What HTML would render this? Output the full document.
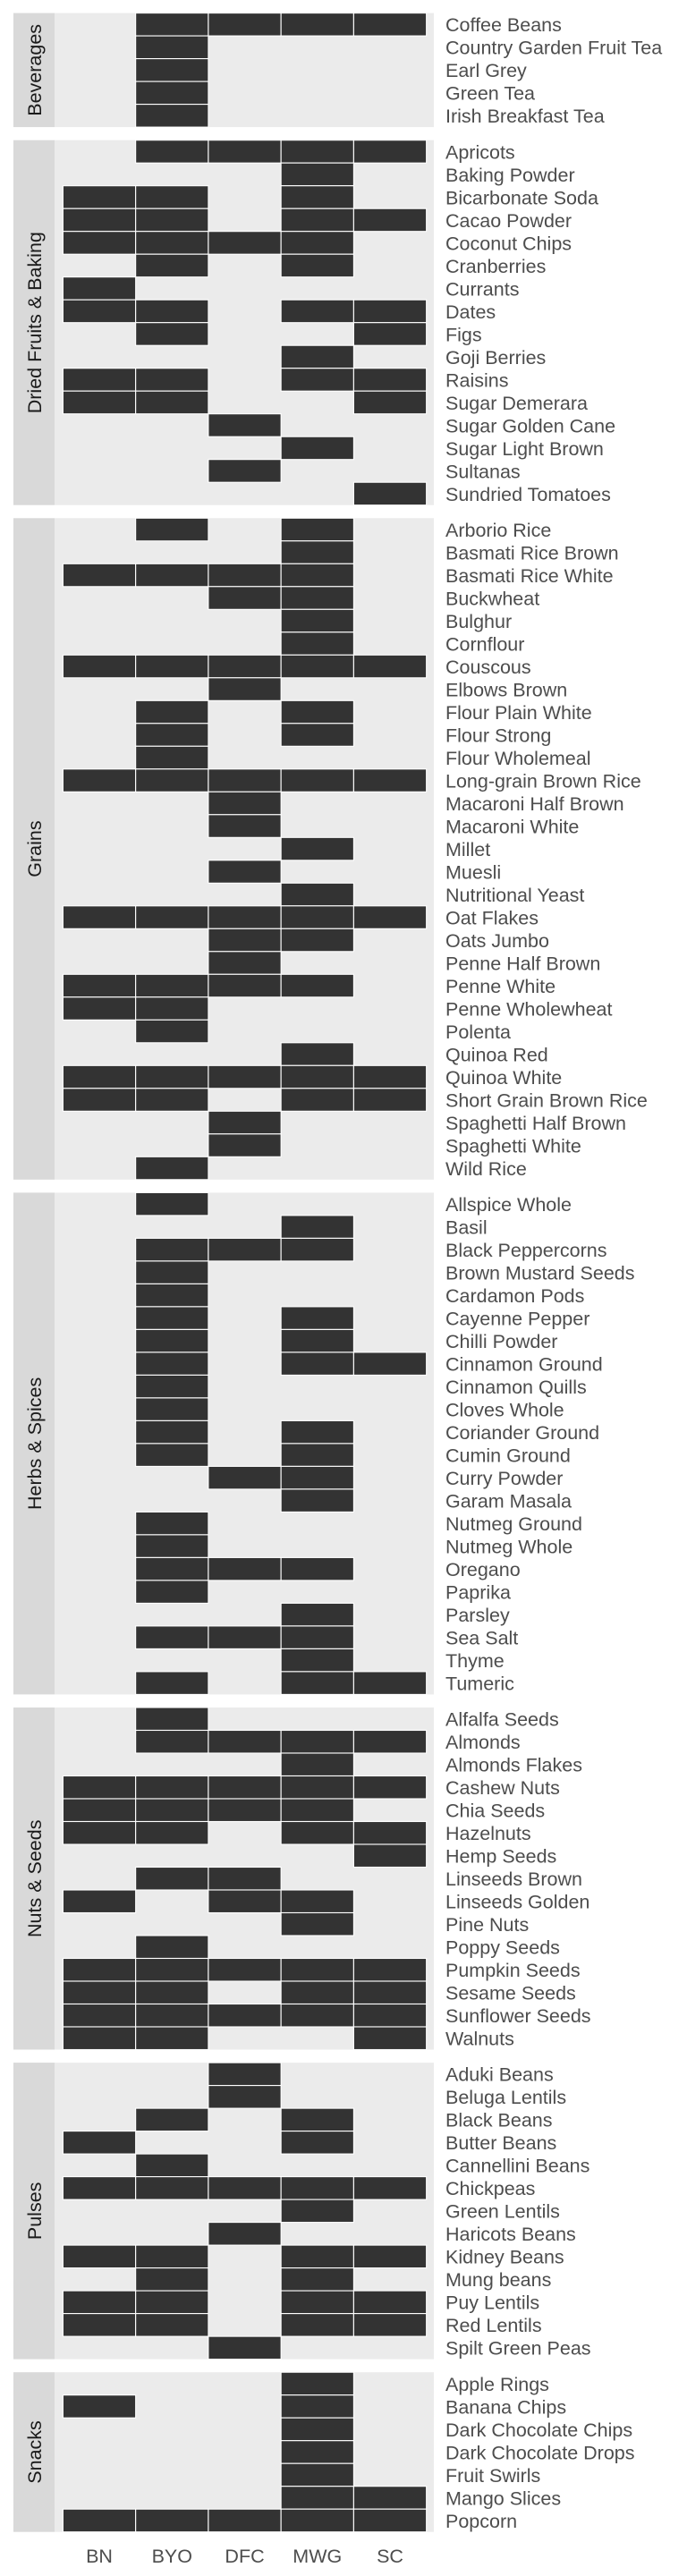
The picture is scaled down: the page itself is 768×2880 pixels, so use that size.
<!DOCTYPE html>
<html><head><meta charset="utf-8"><style>
html,body{margin:0;padding:0;background:#fff}
svg{display:block;font-family:"Liberation Sans",Arial,sans-serif}
</style></head><body>
<svg id="chart" width="768" height="2880" viewBox="0 0 768 2880" xmlns="http://www.w3.org/2000/svg"></svg>
<script>
const stores = ["BN","BYO","DFC","MWG","SC"];
const groups = ["Beverages","Dried Fruits & Baking","Grains","Herbs & Spices","Nuts & Seeds","Pulses","Snacks"];
const beveragesItems = [["Coffee Beans","BYO DFC MWG SC"],["Country Garden Fruit Tea","BYO"],["Earl Grey","BYO"],["Green Tea","BYO"],["Irish Breakfast Tea","BYO"]];
const driedItems = [["Apricots","BYO DFC MWG SC"],["Baking Powder","MWG"],["Bicarbonate Soda","BN BYO MWG"],["Cacao Powder","BN BYO MWG SC"],["Coconut Chips","BN BYO DFC MWG"],["Cranberries","BYO MWG"],["Currants","BN"],["Dates","BN BYO MWG SC"],["Figs","BYO SC"],["Goji Berries","MWG"],["Raisins","BN BYO MWG SC"],["Sugar Demerara","BN BYO SC"],["Sugar Golden Cane","DFC"],["Sugar Light Brown","MWG"],["Sultanas","DFC"],["Sundried Tomatoes","SC"]];
const grainsItems = [["Arborio Rice","BYO MWG"],["Basmati Rice Brown","MWG"],["Basmati Rice White","BN BYO DFC MWG"],["Buckwheat","DFC MWG"],["Bulghur","MWG"],["Cornflour","MWG"],["Couscous","BN BYO DFC MWG SC"],["Elbows Brown","DFC"],["Flour Plain White","BYO MWG"],["Flour Strong","BYO MWG"],["Flour Wholemeal","BYO"],["Long-grain Brown Rice","BN BYO DFC MWG SC"],["Macaroni Half Brown","DFC"],["Macaroni White","DFC"],["Millet","MWG"],["Muesli","DFC"],["Nutritional Yeast","MWG"],["Oat Flakes","BN BYO DFC MWG SC"],["Oats Jumbo","DFC MWG"],["Penne Half Brown","DFC"],["Penne White","BN BYO DFC MWG"],["Penne Wholewheat","BN BYO"],["Polenta","BYO"],["Quinoa Red","MWG"],["Quinoa White","BN BYO DFC MWG SC"],["Short Grain Brown Rice","BN BYO MWG SC"],["Spaghetti Half Brown","DFC"],["Spaghetti White","DFC"],["Wild Rice","BYO"]];
const herbsItems = [["Allspice Whole","BYO"],["Basil","MWG"],["Black Peppercorns","BYO DFC MWG"],["Brown Mustard Seeds","BYO"],["Cardamon Pods","BYO"],["Cayenne Pepper","BYO MWG"],["Chilli Powder","BYO MWG"],["Cinnamon Ground","BYO MWG SC"],["Cinnamon Quills","BYO"],["Cloves Whole","BYO"],["Coriander Ground","BYO MWG"],["Cumin Ground","BYO MWG"],["Curry Powder","DFC MWG"],["Garam Masala","MWG"],["Nutmeg Ground","BYO"],["Nutmeg Whole","BYO"],["Oregano","BYO DFC MWG"],["Paprika","BYO"],["Parsley","MWG"],["Sea Salt","BYO DFC MWG"],["Thyme","MWG"],["Tumeric","BYO MWG SC"]];
const nutsItems = [["Alfalfa Seeds","BYO"],["Almonds","BYO DFC MWG SC"],["Almonds Flakes","MWG"],["Cashew Nuts","BN BYO DFC MWG SC"],["Chia Seeds","BN BYO DFC MWG"],["Hazelnuts","BN BYO MWG SC"],["Hemp Seeds","SC"],["Linseeds Brown","BYO DFC"],["Linseeds Golden","BN DFC MWG"],["Pine Nuts","MWG"],["Poppy Seeds","BYO"],["Pumpkin Seeds","BN BYO DFC MWG SC"],["Sesame Seeds","BN BYO MWG SC"],["Sunflower Seeds","BN BYO DFC MWG SC"],["Walnuts","BN BYO SC"]];
const pulsesItems = [["Aduki Beans","DFC"],["Beluga Lentils","DFC"],["Black Beans","BYO MWG"],["Butter Beans","BN MWG"],["Cannellini Beans","BYO"],["Chickpeas","BN BYO DFC MWG SC"],["Green Lentils","MWG"],["Haricots Beans","DFC"],["Kidney Beans","BN BYO MWG SC"],["Mung beans","BYO MWG"],["Puy Lentils","BN BYO MWG SC"],["Red Lentils","BN BYO MWG SC"],["Spilt Green Peas","DFC"]];
const snacksItems = [["Apple Rings","MWG"],["Banana Chips","BN MWG"],["Dark Chocolate Chips","MWG"],["Dark Chocolate Drops","MWG"],["Fruit Swirls","MWG"],["Mango Slices","MWG SC"],["Popcorn","BN BYO DFC MWG SC"]];
const groupItems = [beveragesItems,driedItems,grainsItems,herbsItems,nutsItems,pulsesItems,snacksItems];

const NS="http://www.w3.org/2000/svg";
const svg=document.getElementById('chart');
function mk(tag,attrs,parent){const e=document.createElementNS(NS,tag);for(const k in attrs)e.setAttribute(k,attrs[k]);(parent||svg).appendChild(e);return e;}
const ROW=25.5, GAP=14.6, TOP=14.6;
const panelL=61, panelR=485, stripL=15;
const colW=81.25, col0=70.4;
function xPos(store){return col0+stores.indexOf(store)*colW;}
function slug(s){return s.toLowerCase().replace(/[^a-z0-9]+/g,'-').replace(/^-|-$/g,'');}
let y=TOP;
groups.forEach((g,gi)=>{
  const items=groupItems[gi];
  const h=items.length*ROW;
  const strip=mk('rect',{x:stripL,y:y,width:panelL-stripL,height:h,fill:'#d9d9d9'});
  
  
  const st=mk('text',{x:0,y:0,transform:`translate(${(stripL+panelL)/2+8},${y+h/2}) rotate(-90)`,'text-anchor':'middle','font-size':'21.5',fill:'#1a1a1a'});
  st.textContent=g;
  
  
  const panel=mk('rect',{x:panelL,y:y,width:panelR-panelL,height:h,fill:'#ebebeb'});
  
  
  items.forEach((it,ri)=>{
    const ry=y+ri*ROW;
    it[1].split(' ').filter(Boolean).forEach(s=>{
      const r=mk('rect',{x:xPos(s),y:ry,width:colW,height:ROW,fill:'#333333',stroke:'#ffffff','stroke-width':'1.1'});
      
      
    });
    const t=mk('text',{x:498,y:ry+ROW/2+7.8,'font-size':'21.5',fill:'#4d4d4d'});
    t.textContent=it[0];
    
    
  });
  y+=h+GAP;
});
stores.forEach(s=>{
  const t=mk('text',{x:xPos(s)+colW/2,y:2865,'text-anchor':'middle','font-size':'21.5',fill:'#4d4d4d'});
  t.textContent=s;
  
  
});
</script>
</body></html>
